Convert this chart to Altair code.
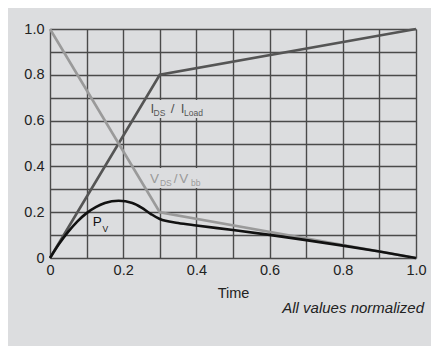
import altair as alt
import pandas as pd

# --- data ---
i_t = [0.0, 0.3, 1.0]
i_v = [0.0, 0.8, 1.0]

v_t = [0.0, 0.3, 1.0]
v_v = [1.0, 0.2, 0.0]

p_t = [0.0, 0.025, 0.05, 0.075, 0.1, 0.125, 0.15, 0.1875, 0.225, 0.25, 0.275, 0.3,
       0.35, 0.4, 0.5, 0.6, 0.7, 0.8, 0.9, 1.0]
p_v = [0.0, 0.062, 0.115, 0.16, 0.196, 0.222, 0.24, 0.25, 0.24, 0.22, 0.193, 0.17,
       0.153, 0.142, 0.122, 0.101, 0.078, 0.054, 0.028, 0.0]

series_names = ["I", "V", "P"]
series_colors = ["#555555", "#9a9a9a", "#111111"]

tick_values = [0.0, 0.1, 0.2, 0.3, 0.4, 0.5, 0.6, 0.7, 0.8, 0.9, 1.0]

# label pieces (text with subscripts)
lab_text = ["I", "DS", "/", "I", "Load", "V", "DS", "/", "V", "bb", "P", "V"]
lab_t = [0.2746, 0.2828, 0.3297, 0.357, 0.366,
         0.2732, 0.3005, 0.3380, 0.3530, 0.3855,
         0.1167, 0.1435]
lab_v = [0.632, 0.620, 0.632, 0.632, 0.620,
         0.326, 0.315, 0.326, 0.326, 0.315,
         0.141, 0.115]
lab_size = [13.5, 8.5, 13.5, 13.5, 8.5, 13.5, 8.5, 13.5, 13.5, 8.5, 13.5, 8.5]
lab_color = ["#555555"] * 5 + ["#9a9a9a"] * 5 + ["#111111"] * 2

# background patches behind the labels
box_t1 = [0.268, 0.268]
box_t2 = [0.437, 0.437]
box_v1 = [0.611, 0.306]
box_v2 = [0.690, 0.393]

BG = "#dcdddf"
FONT = "Liberation Sans"

rows = []
for t, v in zip(i_t, i_v):
    rows.append({"t": t, "v": v, "s": "I"})
for t, v in zip(v_t, v_v):
    rows.append({"t": t, "v": v, "s": "V"})
lines_df = pd.DataFrame(rows)
p_df = pd.DataFrame({"t": p_t, "v": p_v})
lab_df = pd.DataFrame({"text": lab_text, "t": lab_t, "v": lab_v,
                       "size": lab_size, "color": lab_color})
box_df = pd.DataFrame({"t1": box_t1, "t2": box_t2, "v1": box_v1, "v2": box_v2})

label_expr = ("datum.value == 0 ? '0' : (round(datum.value * 10) % 2 == 0 ? "
              "format(datum.value, '.1f') : '')")

xscale = alt.Scale(domain=[0, 1], nice=False, zero=True)
yscale = alt.Scale(domain=[0, 1], nice=False, zero=True)

xaxis = alt.Axis(values=tick_values, labelExpr=label_expr, title="Time",
                 labelPadding=5, titlePadding=10)
yaxis = alt.Axis(values=tick_values, labelExpr=label_expr, title=None,
                 labelPadding=6)


def X(field):
    return alt.X(field, type="quantitative", scale=xscale, axis=xaxis)


def Y(field):
    return alt.Y(field, type="quantitative", scale=yscale, axis=yaxis)


boxes = alt.Chart(box_df).mark_rect(color=BG).encode(
    x=X("t1"), x2="t2", y=Y("v1"), y2="v2",
)

lines = alt.Chart(lines_df).mark_line(strokeWidth=2.6).encode(
    x=X("t"), y=Y("v"),
    color=alt.Color("s:N", scale=alt.Scale(domain=series_names, range=series_colors),
                    legend=None),
)

pline = alt.Chart(p_df).mark_line(strokeWidth=2.6, color="#111111",
                                  interpolate="monotone").encode(
    x=X("t"), y=Y("v"),
)

labels = alt.Chart(lab_df).mark_text(align="left", baseline="alphabetic",
                                     font=FONT).encode(
    x=X("t"), y=Y("v"),
    text="text:N",
    size=alt.Size("size:Q", scale=None, legend=None),
    color=alt.Color("color:N", scale=None, legend=None),
)

note = alt.Chart(pd.DataFrame({"n": ["All values normalized"]})).mark_text(
    align="right", baseline="alphabetic", font=FONT, fontSize=15,
    fontStyle="italic", color="#222"
).encode(
    x=alt.value(374),
    y=alt.value(284),
    text="n:N",
)

chart = alt.layer(boxes, lines, pline, labels, note).properties(
    width=366, height=229,
    background=BG,
    padding={"left": 42, "top": 21, "right": 15, "bottom": 88},
    autosize=alt.AutoSizeParams(type="none"),
).configure_view(
    stroke="transparent"
).configure_axis(
    grid=True, ticks=False, tickSize=0, domain=False,
    labelFontSize=14.5, titleFontSize=14.5, titleFontWeight="normal",
    labelColor="#222", titleColor="#222", labelFont=FONT, titleFont=FONT,
    gridColor="#4a4a4a", gridWidth=1.4, labelFlush=False, labelOverlap=False,
)

chart.save("out.html", embed_options={"renderer": "svg", "actions": False})
